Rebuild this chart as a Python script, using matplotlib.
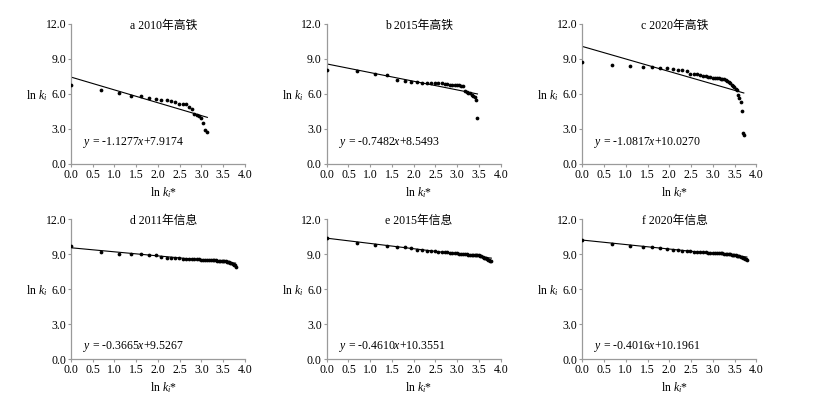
import numpy as np
import matplotlib.pyplot as plt

plt.rcParams['font.family'] = ['Liberation Serif', 'Noto Sans CJK SC']
plt.rcParams['mathtext.fontset'] = 'custom'
plt.rcParams['mathtext.rm'] = 'Liberation Serif'
plt.rcParams['mathtext.it'] = 'Liberation Serif:italic'

# 패널 제목과 회귀식
titles = ['a 2010年高铁', 'b 2015年高铁', 'c 2020年高铁',
          'd 2011年信息', 'e 2015年信息', 'f 2020年信息']
equations = ['$y$ = -1.1277$x$+7.9174', '$y$ = -0.7482$x$+8.5493',
             '$y$ = -1.0817$x$+10.0270', '$y$ = -0.3665$x$+9.5267',
             '$y$ = -0.4610$x$+10.3551', '$y$ = -0.4016$x$+10.1961']

# ln k_i 값 (순위 1, 2, 3 ... 순서)
hsr_2010 = [6.79, 6.37, 6.09, 5.86, 5.81, 5.66, 5.53, 5.50, 5.47, 5.39, 5.33, 5.16,
            5.11, 5.11, 4.88, 4.68, 4.26, 4.18, 4.12, 3.93, 3.51, 2.94, 2.77]
hsr_2015 = [8.09, 7.94, 7.71, 7.63, 7.20, 7.14, 7.03, 7.00, 6.97, 6.97, 6.96, 6.95,
            6.93, 6.91, 6.87, 6.83, 6.80, 6.77, 6.76, 6.74, 6.73, 6.71, 6.69, 6.22,
            6.18, 6.12, 6.05, 5.95, 5.85, 5.70, 5.45, 3.96]
hsr_2020 = [8.75, 8.45, 8.39, 8.33, 8.29, 8.26, 8.19, 8.13, 8.07, 8.03, 7.98, 7.73,
            7.71, 7.68, 7.60, 7.55, 7.50, 7.47, 7.44, 7.41, 7.39, 7.36, 7.33, 7.30,
            7.27, 7.24, 7.19, 7.10, 7.00, 6.90, 6.80, 6.70, 6.60, 6.45, 6.35, 5.90,
            5.65, 5.28, 4.55, 2.66, 2.52]
info_2011 = [9.75, 9.17, 9.06, 9.03, 9.00, 8.97, 8.94, 8.77, 8.72, 8.69, 8.66, 8.64,
             8.62, 8.61, 8.60, 8.59, 8.58, 8.57, 8.56, 8.55, 8.54, 8.53, 8.52, 8.51,
             8.50, 8.49, 8.48, 8.47, 8.46, 8.45, 8.44, 8.43, 8.41, 8.40, 8.38, 8.36,
             8.33, 8.30, 8.27, 8.23, 8.18, 8.12, 8.05, 7.95]
info_2015 = [10.37, 9.94, 9.80, 9.74, 9.66, 9.62, 9.57, 9.40, 9.34, 9.30, 9.27, 9.24,
             9.22, 9.20, 9.18, 9.16, 9.14, 9.12, 9.10, 9.08, 9.06, 9.04, 9.02, 9.00,
             8.98, 8.97, 8.96, 8.95, 8.94, 8.93, 8.92, 8.91, 8.90, 8.88, 8.83, 8.77,
             8.72, 8.68, 8.64, 8.60, 8.55, 8.50, 8.45, 8.40]
info_2020 = [10.25, 9.84, 9.72, 9.64, 9.60, 9.55, 9.48, 9.38, 9.34, 9.30, 9.27, 9.25,
             9.23, 9.21, 9.19, 9.17, 9.16, 9.15, 9.14, 9.13, 9.12, 9.11, 9.10, 9.09,
             9.08, 9.06, 9.04, 9.02, 9.00, 8.98, 8.96, 8.94, 8.92, 8.90, 8.87, 8.84,
             8.81, 8.78, 8.75, 8.71, 8.67, 8.62, 8.57, 8.50]

series = [hsr_2010, hsr_2015, hsr_2020, info_2011, info_2015, info_2020]

fig = plt.figure(figsize=(8.16, 3.99), dpi=100)

lefts = [0.087, 0.4004, 0.7136]
bottoms = [0.589, 0.0995]
eq_y = [1.8, 1.1]
fs = 8.5

for i, y in enumerate(series):
    row, col = divmod(i, 3)
    ax = fig.add_axes([lefts[col], bottoms[row], 0.2132, 0.351])
    y = np.array(y)
    x = np.log(np.arange(1, len(y) + 1))

    # 추세선
    k, b = np.polyfit(x, y, 1)
    ax.plot([0, x[-1]], [b, b + k * x[-1]], color='black', lw=0.8)
    ax.plot(x, y, 'o', color='black', ms=2.7, mew=0, zorder=3)

    ax.set_xlim(0, 4.0)
    ax.set_ylim(0, 12.0)
    ax.set_xticks(np.arange(0, 4.01, 0.5))
    ax.set_yticks(np.arange(0, 12.01, 3.0))
    ax.xaxis.set_major_formatter(plt.FormatStrFormatter('%.1f'))
    ax.yaxis.set_major_formatter(plt.FormatStrFormatter('%.1f'))
    for s in ['top', 'right']:
        ax.spines[s].set_visible(False)
    for s in ['left', 'bottom']:
        ax.spines[s].set_color('#9a9a9a')
        ax.spines[s].set_linewidth(0.9)
    ax.tick_params(labelsize=fs, length=2.5, width=0.8, color='#9a9a9a', pad=1)

    ax.text(0.53, 0.985, titles[i], transform=ax.transAxes, ha='center',
            va='center', fontsize=fs)
    ax.text(0.28, eq_y[row], equations[i], fontsize=fs, va='center')

    ax.set_ylabel('ln $k_i$', fontsize=fs, rotation=0, ha='right', va='center')
    ax.yaxis.set_label_coords(-0.135, 0.49)
    ax.set_xlabel('ln $k_i$*', fontsize=fs)
    ax.xaxis.set_label_coords(0.53, -0.15)

fig.savefig('out.png', dpi=100)
